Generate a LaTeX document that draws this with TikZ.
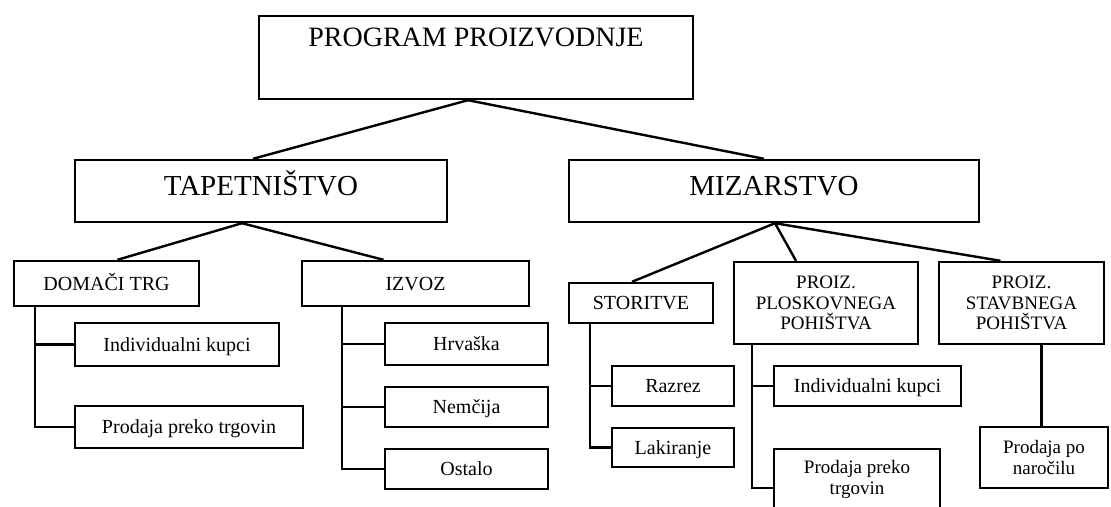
\documentclass[tikz,border=0pt]{standalone}
\usepackage{fontspec}
\setmainfont{Liberation Serif}
\usetikzlibrary{calc}
\newcommand\bigfnt{\fontsize{28}{32}\selectfont}
\newcommand\midfnt{\fontsize{29}{32}\selectfont}
\newcommand\smallfnt{\fontsize{19}{20.5}\selectfont}
\newcommand\onefnt{\fontsize{20}{22}\selectfont}
\begin{document}
\begin{tikzpicture}[x=1pt,y=-1pt,
  box/.style={draw, line width=2.4pt, inner sep=0pt, align=center, font=\smallfnt},
  one/.style={box, font=\onefnt, text height=13.2pt, text depth=0pt},
  big/.style={draw, line width=2.4pt, inner sep=0pt, font=\bigfnt},
  con/.style={line width=2.4pt}]
\useasboundingbox (0,0) rectangle (1111,506);
\clip (0,0) rectangle (1111,506);
% level 0
\node[big, minimum width=434pt, text height=30pt, text depth=53pt] (root) at (476,57.5) {PROGRAM PROIZVODNJE};
% level 1
\node[big, font=\midfnt, minimum width=372pt, text height=35pt, text depth=27pt] (tap) at (261,191) {TAPETNIŠTVO};
\node[big, font=\midfnt, minimum width=410pt, text height=35pt, text depth=27pt] (miz) at (774,191) {MIZARSTVO};
% level 2
\node[one, minimum width=185pt, minimum height=45pt] (domaci) at (106.5,283.5) {DOMAČI TRG};
\node[one, minimum width=227pt, minimum height=45pt] (izvoz) at (415.5,283.5) {IZVOZ};
\node[one, minimum width=144pt, minimum height=40pt] (stor) at (641,303) {STORITVE};
\node[box, minimum width=184pt, minimum height=82pt] (plosk) at (826,303) {PROIZ.\\PLOSKOVNEGA\\POHIŠTVA};
\node[box, minimum width=165pt, minimum height=82pt] (stav) at (1021.5,303) {PROIZ.\\STAVBNEGA\\POHIŠTVA};
% level 3
\node[one, minimum width=204pt, minimum height=43pt] (ind1) at (177,344.5) {Individualni kupci};
\node[one, minimum width=228pt, minimum height=42pt] (pro1) at (189,427) {Prodaja preko trgovin};
\node[one, minimum width=163pt, minimum height=42pt] (hrv) at (466.5,344) {Hrvaška};
\node[one, minimum width=163pt, minimum height=40pt] (nem) at (466.5,407) {Nemčija};
\node[one, minimum width=163pt, minimum height=40pt] (ost) at (466.5,469) {Ostalo};
\node[one, minimum width=122pt, minimum height=40pt] (razrez) at (673,386) {Razrez};
\node[one, minimum width=122pt, minimum height=39pt] (lak) at (673,447.5) {Lakiranje};
\node[one, minimum width=187pt, minimum height=40pt] (ind2) at (867.5,386) {Individualni kupci};
\node[box, minimum width=166pt, minimum height=61pt] (pro2) at (857,479.5) {Prodaja preko\\trgovin};
\node[box, minimum width=128pt, minimum height=61pt] (prodpo) at (1044,457.5) {Prodaja po\\naročilu};
% connectors
\draw[con] ([xshift=-8pt]root.south) -- ([xshift=-8pt]tap.north);
\draw[con] ([xshift=-8pt]root.south) -- ([xshift=-10pt]miz.north);
\draw[con] ([xshift=-19pt]tap.south) -- ([xshift=11pt]domaci.north);
\draw[con] ([xshift=-19pt]tap.south) -- ([xshift=-32pt]izvoz.north);
\draw[con] ([xshift=1pt]miz.south) -- ([xshift=-9pt]stor.north);
\draw[con] ([xshift=1pt]miz.south) -- ([xshift=-30pt]plosk.north);
\draw[con] ([xshift=1pt]miz.south) -- ([xshift=-21pt]stav.north);
\draw[con] ([xshift=22pt]domaci.south west) |- (ind1.west);
\draw[con] ([xshift=22pt]domaci.south west) |- (pro1.west);
\draw[con] ([xshift=41pt]izvoz.south west) |- (hrv.west);
\draw[con] ([xshift=41pt]izvoz.south west) |- (nem.west);
\draw[con] ([xshift=41pt]izvoz.south west) |- (ost.west);
\draw[con] ([xshift=22pt]stor.south west) |- (razrez.west);
\draw[con] ([xshift=22pt]stor.south west) |- (lak.west);
\draw[con] ([xshift=19pt]plosk.south west) |- (ind2.west);
\draw[con] ([xshift=19pt]plosk.south west) |- ([yshift=-8.5pt]pro2.west);
\draw[con] ([xshift=20pt]stav.south) -- ([xshift=20pt]stav.south |- prodpo.north);
\end{tikzpicture}
\end{document}
